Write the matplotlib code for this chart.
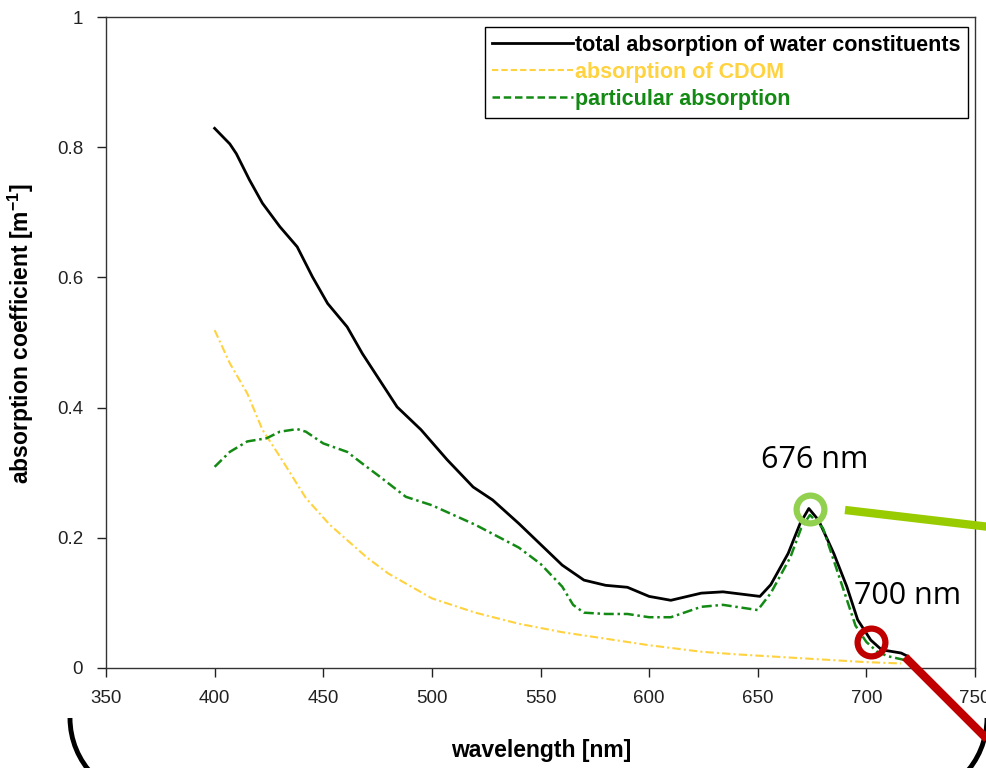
import numpy as np
import matplotlib
matplotlib.use("Agg")
import matplotlib.pyplot as plt
from matplotlib.patches import Arc

# values
wl_total = [400, 407, 410, 416, 422, 430, 438, 445, 452, 461, 468, 476, 484, 495, 507, 519, 528,
            540, 550, 560, 570, 580, 590, 600, 610, 624, 634, 651, 656, 664, 669.5, 673.5, 678,
            685, 691, 696, 702, 707, 716, 719]
a_total = [0.829, 0.805, 0.790, 0.750, 0.714, 0.678, 0.647, 0.601, 0.560, 0.524, 0.483, 0.442,
           0.401, 0.366, 0.320, 0.278, 0.258, 0.222, 0.190, 0.158, 0.135, 0.127, 0.124, 0.110,
           0.104, 0.115, 0.117, 0.110, 0.128, 0.176, 0.222, 0.245, 0.227, 0.176, 0.125, 0.074,
           0.043, 0.028, 0.023, 0.018]

wl_cdom = [400, 407, 415, 422, 430, 442, 453, 470, 480, 500, 520, 540, 560, 580, 600, 624, 640,
           660, 670, 680, 700, 716]
a_cdom = [0.519, 0.468, 0.422, 0.366, 0.325, 0.261, 0.220, 0.170, 0.145, 0.107, 0.085, 0.068,
          0.055, 0.045, 0.035, 0.025, 0.021, 0.017, 0.015, 0.013, 0.009, 0.007]

wl_part = [400, 407, 415, 424, 430, 438, 442, 450, 461, 468, 476, 488, 500, 520, 540, 550, 560,
           565, 570, 580, 590, 600, 610, 624, 634, 650, 656, 665, 670, 674, 680, 685, 690, 695,
           700, 705, 710, 718]
a_part = [0.309, 0.332, 0.348, 0.353, 0.363, 0.367, 0.363, 0.345, 0.332, 0.314, 0.294, 0.263,
          0.250, 0.220, 0.185, 0.160, 0.125, 0.097, 0.085, 0.083, 0.083, 0.078, 0.078, 0.094,
          0.097, 0.089, 0.115, 0.170, 0.215, 0.235, 0.215, 0.165, 0.115, 0.065, 0.040, 0.025,
          0.018, 0.012]

marks = [(674, 0.245, "#92D050"), (702, 0.040, "#C00000")]
mark_labels = [(676, 0.32, "676 nm"), (719, 0.11, "700 nm")]

plt.rcParams["font.family"] = ["Liberation Sans", "DejaVu Sans"]

fig = plt.figure(figsize=(9.87, 7.68), dpi=100)
ax = fig.add_axes([106 / 987, 1 - 668 / 768, (975 - 106) / 987, (668 - 17) / 768])

ax.plot(wl_total, a_total, color="black", lw=2.0, label="total absorption of water constituents")
ax.plot(wl_cdom, a_cdom, color="#FFD23F", lw=1.5, dashes=(4, 1.5, 1, 1.5),
        label="absorption of CDOM")
ax.plot(wl_part, a_part, color="#138A13", lw=1.8, dashes=(4, 1.5, 1, 1.5),
        label="particular absorption")

ax.set_xlim(350, 750)
ax.set_ylim(0, 1)
ax.set_xticks(np.arange(350, 751, 50))
ax.set_yticks([0, 0.2, 0.4, 0.6, 0.8, 1])
ax.set_yticklabels(["0", "0.2", "0.4", "0.6", "0.8", "1"])
ax.tick_params(direction="out", length=6.5, width=1, labelsize=13.5, colors="#222222")
ax.tick_params(axis="x", pad=9)
ax.tick_params(axis="y", pad=10)
for s in ax.spines.values():
    s.set_linewidth(1)
    s.set_color("#333333")

ax.set_xlabel("wavelength [nm]", fontsize=16.5, fontweight="bold")
ax.xaxis.set_label_coords((541 - 106) / 869, -(739 - 668) / 651)
ax.set_ylabel("absorption coefficient [m$^{\\mathregular{-1}}$]", fontsize=16.5,
              fontweight="bold")
ax.yaxis.set_label_coords(-(106 - 36) / 869, (668 - 334) / 651)

leg = ax.legend(loc="upper right", bbox_to_anchor=(0.992, 0.984), fontsize=15.5,
                handlelength=3.75, handletextpad=0.1, borderpad=0.35, labelspacing=0.28,
                borderaxespad=0, fancybox=False, framealpha=1, edgecolor="black")
leg.get_frame().set_linewidth(1)
for txt, ln in zip(leg.get_texts(), leg.get_lines()):
    txt.set_color(ln.get_color())
    txt.set_fontweight("bold")
leg.get_lines()[1].set_dashes((3, 1.5))
leg.get_lines()[2].set_dashes((3, 1.5))

# highlight circles and labels
for x, y, c in marks:
    ax.plot([x], [y], "o", ms=20, mfc="none", mec=c, mew=4.5, clip_on=False, zorder=5)
for x, y, lab in mark_labels:
    ax.text(x, y, lab, fontsize=22, family="Open Sans", ha="center", va="center")

# overlay in pixel units for the call-out lines and brackets
ov = fig.add_axes([0, 0, 1, 1], zorder=10)
ov.set_xlim(0, 987)
ov.set_ylim(768, 0)
ov.axis("off")
ov.patch.set_alpha(0)
ov.plot([845, 990], [510, 527], color="#99CC00", lw=6, solid_capstyle="butt")
ov.plot([905, 990], [657, 742], color="#C00000", lw=6, solid_capstyle="butt")
ov.add_patch(Arc((152, 718), 164, 164, theta1=90, theta2=180, color="black", lw=3.5))
ov.add_patch(Arc((905, 718), 164, 164, theta1=0, theta2=90, color="black", lw=3.5))

fig.savefig("out.png", dpi=100)
